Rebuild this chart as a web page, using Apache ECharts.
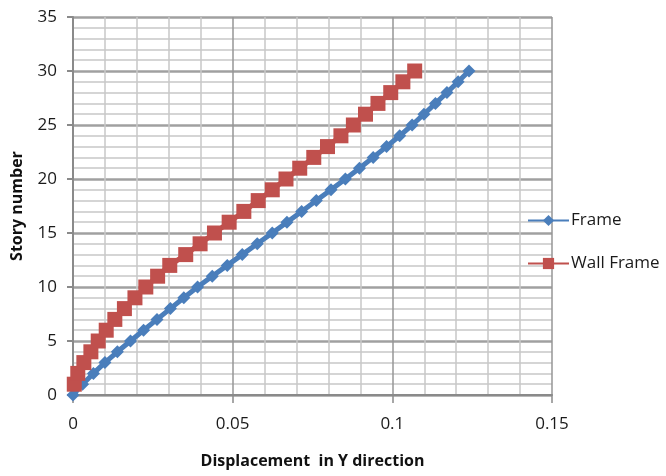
<!DOCTYPE html>
<html>
<head>
<meta charset="utf-8">
<script src="https://cdn.jsdelivr.net/npm/echarts@6/dist/echarts.min.js"></script>
<style>
  html, body { margin: 0; padding: 0; background: #fff; }
  #chart { width: 666px; height: 476px; }
</style>
</head>
<body>
<div id="chart"></div>
<script>
// story numbers and displacements
var frameStories = [0,1,2,3,4,5,6,7,8,9,10,11,12,13,14,15,16,17,18,19,20,21,22,23,24,25,26,27,28,29,30];
var frameDisp = [0,0.003,0.0064,0.01,0.0139,0.018,0.0221,0.0263,0.0305,0.0347,0.039,0.0436,0.0483,0.053,0.0577,0.0624,0.067,0.0716,0.0762,0.0808,0.0853,0.0897,0.094,0.0982,0.1023,0.1062,0.1099,0.1135,0.1171,0.1206,0.124];
var wallStories = [1,2,3,4,5,6,7,8,9,10,11,12,13,14,15,16,17,18,19,20,21,22,23,24,25,26,27,28,29,30];
var wallDisp = [0.0004,0.0015,0.0034,0.0056,0.0079,0.0104,0.0131,0.0161,0.0194,0.0228,0.0265,0.0303,0.0353,0.0398,0.0443,0.0489,0.0535,0.058,0.0624,0.0667,0.071,0.0754,0.0797,0.0839,0.0878,0.0916,0.0955,0.0995,0.1033,0.107];
var seriesNames = ['Frame', 'Wall Frame'];

function pairs(xs, ys) {
  var out = [];
  for (var i = 0; i < xs.length; ++i) {
    out.push([xs[i], ys[i]]);
  }
  return out;
}

var myChart = echarts.init(document.getElementById('chart'));
var font = '"Open Sans", Lato, sans-serif';
var option = {
  backgroundColor: '#fff',
  animation: false,
  textStyle: { fontFamily: font },
  grid: { left: 73, top: 17, width: 479, height: 378, containLabel: false },
  legend: {
    orient: 'vertical',
    left: 522,
    top: 207,
    itemWidth: 41,
    itemHeight: 14,
    itemGap: 26,
    textStyle: { fontSize: 17, color: '#1a1a1a', fontFamily: font, padding: [0, 0, 0, -3] },
    data: seriesNames
  },
  xAxis: {
    type: 'value',
    min: 0,
    max: 0.15,
    interval: 0.05,
    name: 'Displacement  in Y direction',
    nameLocation: 'middle',
    nameGap: 58,
    nameTextStyle: { fontSize: 16, fontWeight: 'bold', color: '#111' },
    axisLine: { show: true, lineStyle: { color: '#8a8a8a', width: 2 } },
    axisTick: { show: true, length: 8, lineStyle: { color: '#8a8a8a', width: 1.5 } },
    axisLabel: { fontSize: 17, color: '#1a1a1a', margin: 21 },
    splitLine: { show: true, lineStyle: { color: '#969696', width: 1.5 } },
    minorTick: { show: true, splitNumber: 5, length: 0 },
    minorSplitLine: { show: true, lineStyle: { color: '#c8c8c8', width: 1.5 } }
  },
  yAxis: {
    type: 'value',
    min: 0,
    max: 35,
    interval: 5,
    name: 'Story number',
    nameLocation: 'middle',
    nameGap: 48,
    nameTextStyle: { fontSize: 16, fontWeight: 'bold', color: '#111' },
    axisLine: { show: true, lineStyle: { color: '#8a8a8a', width: 2 } },
    axisTick: { show: true, length: 6, lineStyle: { color: '#8a8a8a', width: 2 } },
    axisLabel: { fontSize: 17, color: '#1a1a1a', margin: 16 },
    splitLine: { show: true, lineStyle: { color: '#a0a0a0', width: 2.5 } },
    minorTick: { show: true, splitNumber: 5, length: 0 },
    minorSplitLine: { show: true, lineStyle: { color: '#c8c8c8', width: 1.5 } }
  },
  series: [{
    name: seriesNames[0],
    type: 'line',
    data: pairs(frameDisp, frameStories),
    symbol: 'diamond',
    symbolSize: 13,
    showAllSymbol: true,
    itemStyle: { color: '#4a7ebb' },
    lineStyle: { color: '#4a7ebb', width: 5 }
  }, {
    name: seriesNames[1],
    type: 'line',
    data: pairs(wallDisp, wallStories),
    symbol: 'rect',
    symbolSize: 15,
    showAllSymbol: true,
    itemStyle: { color: '#c0504d' },
    lineStyle: { color: '#c0504d', width: 5 }
  }]
};
myChart.setOption(option);
</script>
</body>
</html>
